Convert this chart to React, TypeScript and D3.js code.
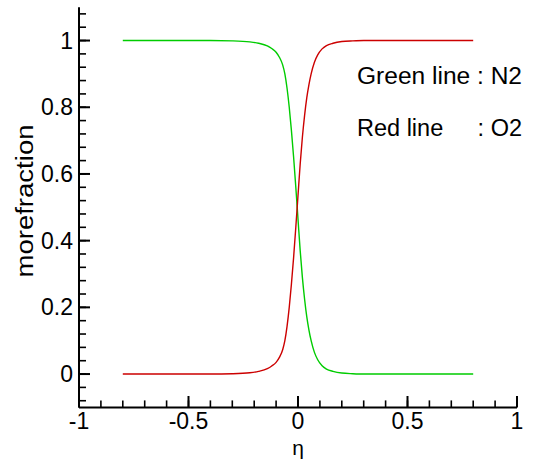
import React from "react";
import * as d3 from "d3";

const etaValues = [-0.8, -0.4, -0.3, -0.22, -0.18, -0.14, -0.12, -0.1, -0.085, -0.07, -0.06, -0.05, -0.04, -0.03, -0.02, -0.01, 0, 0.01, 0.02, 0.03, 0.04, 0.05, 0.06, 0.075, 0.09, 0.11, 0.13, 0.16, 0.2, 0.25, 0.3, 0.8];
const o2Values = [0, 0, 0.001, 0.004, 0.008, 0.016, 0.024, 0.035, 0.05, 0.073, 0.1, 0.143, 0.2, 0.27, 0.35, 0.44, 0.535, 0.63, 0.71, 0.775, 0.828, 0.868, 0.9, 0.935, 0.957, 0.975, 0.985, 0.992, 0.997, 0.999, 1, 1];
const n2Values = [1, 1, 0.999, 0.996, 0.992, 0.984, 0.976, 0.965, 0.95, 0.927, 0.9, 0.857, 0.8, 0.73, 0.65, 0.56, 0.465, 0.37, 0.29, 0.225, 0.172, 0.132, 0.1, 0.065, 0.043, 0.025, 0.015, 0.008, 0.003, 0.001, 0, 0];

const xMajorTicks = [-1, -0.5, 0, 0.5, 1];
const xTickLabels = ["-1", "-0.5", "0", "0.5", "1"];
const yMajorTicks = [0, 0.2, 0.4, 0.6, 0.8, 1];
const yTickLabels = ["0", "0.2", "0.4", "0.6", "0.8", "1"];
const xMinorTicks = d3.range(-9, 10).map((i) => i / 10);
const yMinorTicks = d3.range(-2, 28).map((i) => i * 0.04);

export default function App() {
  const x = d3.scaleLinear().domain([-1, 1]).range([79, 517]);
  const y = d3.scaleLinear().domain([-0.1, 1.1]).range([407.4, 7.2]);
  const line = (vals: number[]) =>
    d3
      .line<number>()
      .x((_, i) => x(etaValues[i]))
      .y((d) => y(d))
      .curve(d3.curveMonotoneX)(vals) as string;
  const font = "'Liberation Sans', Arial, sans-serif";
  return (
    <svg
      width={533}
      height={463}
      style={{ position: "absolute", left: 0, top: 0, background: "#fff" }}
      fontFamily={font}
    >
      <path d={line(n2Values)} fill="none" stroke="#00cc00" strokeWidth={1.4} />
      <path d={line(o2Values)} fill="none" stroke="#cc0000" strokeWidth={1.4} />
      {/* axes */}
      <line x1={79} x2={79} y1={y(1.1)} y2={407.4} stroke="#000" strokeWidth={2} />
      <line x1={79} x2={x(1)} y1={407.4} y2={407.4} stroke="#000" strokeWidth={2} />
      {xMinorTicks.map((t) => (
        <line key={"xm" + t} x1={x(t)} x2={x(t)} y1={407.4} y2={400.4} stroke="#000" strokeWidth={1.6} />
      ))}
      {xMajorTicks.map((t) => (
        <line key={"xM" + t} x1={x(t)} x2={x(t)} y1={407.4} y2={396} stroke="#000" strokeWidth={2} />
      ))}
      {yMinorTicks.map((t) => (
        <line key={"ym" + t} x1={79} x2={86} y1={y(t)} y2={y(t)} stroke="#000" strokeWidth={1.6} />
      ))}
      {yMajorTicks.map((t) => (
        <line key={"yM" + t} x1={79} x2={90} y1={y(t)} y2={y(t)} stroke="#000" strokeWidth={2} />
      ))}
      {xMajorTicks.map((t, i) => (
        <text key={"xl" + t} x={x(t)} y={429} textAnchor="middle" fontSize={23}>
          {xTickLabels[i]}
        </text>
      ))}
      {yMajorTicks.map((t, i) => (
        <text key={"yl" + t} x={73} y={y(t) + 8} textAnchor="end" fontSize={23}>
          {yTickLabels[i]}
        </text>
      ))}
      <text x={298} y={455} textAnchor="middle" fontSize={21}>
        η
      </text>
      <text
        transform="translate(33,201) rotate(-90)"
        textAnchor="middle"
        fontSize={23}
        textLength={153}
        lengthAdjust="spacingAndGlyphs"
      >
        morefraction
      </text>
      <text x={357} y={84} fontSize={23.5} textLength={165} lengthAdjust="spacingAndGlyphs">
        Green line : N2
      </text>
      <text x={357} y={136} fontSize={23.5}>
        Red line
      </text>
      <text x={522} y={136} fontSize={23.5} textAnchor="end">
        : O2
      </text>
    </svg>
  );
}
